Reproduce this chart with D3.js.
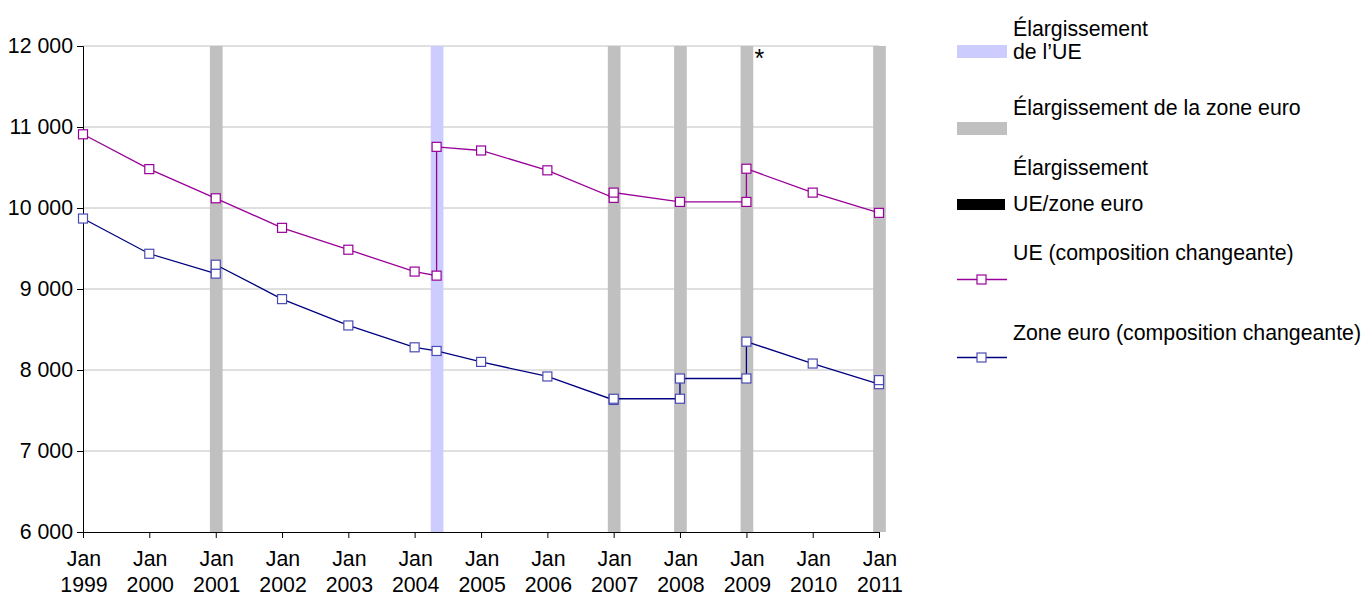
<!DOCTYPE html>
<html>
<head>
<meta charset="utf-8">
<script src="https://cdn.jsdelivr.net/npm/d3@7"></script>
<style>
	body { margin: 0; background: #fff; }
	text { font-family: 'Liberation Sans', Arial, sans-serif; }
</style>
</head>
<body>
<svg id="canvas"></svg>
<script>
// jan of each year on the x axis
const yearTicks = ['1999', '2000', '2001', '2002', '2003', '2004', '2005', '2006', '2007', '2008', '2009', '2010', '2011'];
const yValues = [6000, 7000, 8000, 9000, 10000, 11000, 12000];

// enlargement bands (month of enlargement)
const bandDates = ['2001-01', '2004-05', '2007-01', '2008-01', '2009-01', '2011-01'];
const bandKinds = ['euro', 'ue', 'euro', 'euro', 'euro', 'euro'];

// UE (composition changeante) – two points on same date = before/after
const ueDates = ['1999-01', '2000-01', '2001-01', '2002-01', '2003-01', '2004-01', '2004-05', '2004-05', '2005-01', '2006-01', '2007-01', '2007-01', '2008-01', '2009-01', '2009-01', '2010-01', '2011-01'];
const ueValues = [10910, 10480, 10120, 9755, 9485, 9215, 9165, 10755, 10710, 10465, 10125, 10190, 10075, 10075, 10485, 10190, 9940];

// Zone euro (composition changeante)
const euroDates = ['1999-01', '2000-01', '2001-01', '2001-01', '2002-01', '2003-01', '2004-01', '2004-05', '2005-01', '2006-01', '2007-01', '2007-01', '2008-01', '2008-01', '2009-01', '2009-01', '2010-01', '2011-01', '2011-01'];
const euroValues = [9870, 9435, 9190, 9300, 8875, 8550, 8280, 8235, 8100, 7920, 7630, 7645, 7645, 7895, 7895, 8350, 8080, 7825, 7875];

const legendLabels = [
	['Élargissement', 'de l\u2019UE'],
	['Élargissement de la zone euro'],
	['Élargissement', 'UE/zone euro'],
	['UE (composition changeante)'],
	['Zone euro (composition changeante)']
];

const width = 1364;
const height = 598;
const plotLeft = 83;
const plotRight = 879;
const plotTop = 46;
const plotBottom = 532;
const fontSize = 21.3;

const parseMonth = d3.utcParse('%Y-%m');
const fmt = d3.formatLocale({ decimal: ',', thousands: '\u00a0', grouping: [3] }).format(',d');

const canvas = d3.select('#canvas').attr('width', width).attr('height', height);

const xScale = d3
	.scaleUtc()
	.domain([parseMonth('1999-01'), parseMonth('2011-01')])
	.range([plotLeft, plotRight]);

const yScale = d3.scaleLinear().domain([6000, 12000]).range([plotBottom, plotTop]);

// gridlines
canvas
	.append('g')
	.selectAll('line')
	.data(yValues.slice(1))
	.enter()
	.append('line')
	.attr('x1', plotLeft)
	.attr('x2', plotRight)
	.attr('y1', (v) => yScale(v))
	.attr('y2', (v) => yScale(v))
	.attr('stroke', '#c0c0c0')
	.attr('stroke-width', 1);

// bands
const bandWidth = 12.7;
canvas
	.append('g')
	.selectAll('rect')
	.data(bandDates)
	.enter()
	.append('rect')
	.attr('x', (d) => xScale(parseMonth(d)) - bandWidth / 2 + 0.5)
	.attr('y', plotTop)
	.attr('width', bandWidth)
	.attr('height', plotBottom - plotTop)
	.attr('fill', (d, i) => (bandKinds[i] === 'ue' ? '#ccccff' : '#c0c0c0'));

// y axis
const yAxis = d3.axisLeft(yScale).tickValues(yValues).tickSize(6).tickFormat(fmt);
const yG = canvas.append('g').attr('transform', `translate(${plotLeft},0)`).call(yAxis);
yG.select('.domain').attr('stroke', '#000');
yG.selectAll('.tick line').attr('stroke', '#000');
yG.selectAll('.tick text')
	.attr('x', -10)
	.attr('font-size', fontSize)
	.attr('font-family', 'Liberation Sans, Arial, sans-serif')
	.attr('fill', '#000');

// x axis
const xAxis = d3
	.axisBottom(xScale)
	.tickValues(yearTicks.map((y) => parseMonth(y + '-01')))
	.tickSize(6)
	.tickSizeOuter(0)
	.tickFormat('');
const xG = canvas.append('g').attr('transform', `translate(0,${plotBottom})`).call(xAxis);
xG.select('.domain').attr('stroke', '#000');
xG.selectAll('.tick line').attr('stroke', '#000');

const xLabels = canvas.append('g').selectAll('text').data(yearTicks).enter().append('text')
	.attr('text-anchor', 'middle')
	.attr('font-size', fontSize)
	.attr('fill', '#000');
xLabels.append('tspan').attr('x', (y) => xScale(parseMonth(y + '-01')) + 1).attr('y', 566).text('Jan');
xLabels.append('tspan').attr('x', (y) => xScale(parseMonth(y + '-01')) + 1).attr('y', 592).text((y) => y);

// series
const drawSeries = (dates, values, lineColor, markerColor) => {
	const pts = dates.map((d, i) => [xScale(parseMonth(d)), yScale(values[i])]);
	canvas
		.append('path')
		.attr('d', d3.line()(pts))
		.attr('fill', 'none')
		.attr('stroke', lineColor)
		.attr('stroke-width', 1.3);
	canvas
		.append('g')
		.selectAll('rect')
		.data(pts)
		.enter()
		.append('rect')
		.attr('x', (p) => p[0] - 4.5)
		.attr('y', (p) => p[1] - 4.5)
		.attr('width', 9)
		.attr('height', 9)
		.attr('fill', '#fff')
		.attr('stroke', markerColor)
		.attr('stroke-width', 1.2);
};

drawSeries(ueDates, ueValues, '#990099', '#990099');
drawSeries(euroDates, euroValues, '#000080', '#4b4bb4');

// asterisk next to the 2009 band
canvas
	.append('text')
	.attr('x', xScale(parseMonth('2009-01')) + 13)
	.attr('y', 67)
	.attr('text-anchor', 'middle')
	.attr('font-size', 25)
	.text('*');

// legend
const lx = 957;
const tx = 1013;
const legend = canvas.append('g');

legend.append('rect').attr('x', lx).attr('y', 45).attr('width', 50).attr('height', 13).attr('fill', '#ccccff');
legend.append('rect').attr('x', lx).attr('y', 122).attr('width', 50).attr('height', 13).attr('fill', '#c0c0c0');
legend.append('rect').attr('x', lx).attr('y', 199).attr('width', 48).attr('height', 11).attr('fill', '#000');

const legendLine = (y, lineColor, markerColor) => {
	legend.append('line').attr('x1', lx).attr('x2', lx + 50).attr('y1', y).attr('y2', y)
		.attr('stroke', lineColor).attr('stroke-width', 1.3);
	legend.append('rect').attr('x', lx + 20).attr('y', y - 4.5).attr('width', 9).attr('height', 9)
		.attr('fill', '#fff').attr('stroke', markerColor).attr('stroke-width', 1.2);
};
legendLine(279.5, '#990099', '#990099');
legendLine(357.5, '#000080', '#4b4bb4');

const legendBaselines = [[36, 59], [115], [175, 211], [260], [340]];
legendLabels.forEach((lines, i) => {
	lines.forEach((line, j) => {
		legend
			.append('text')
			.attr('x', tx)
			.attr('y', legendBaselines[i][j])
			.attr('font-size', fontSize)
			.attr('fill', '#000')
			.text(line);
	});
});
</script>
</body>
</html>
